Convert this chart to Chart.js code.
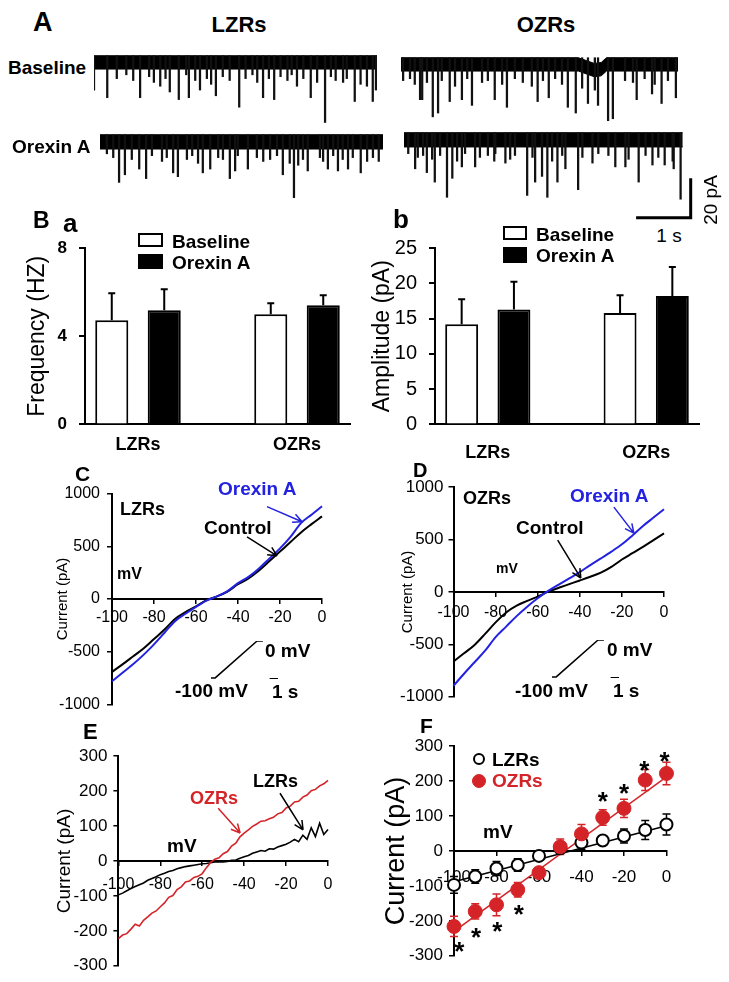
<!DOCTYPE html>
<html>
<head>
<meta charset="utf-8">
<script src="https://cdn.jsdelivr.net/npm/chart.js@4.4.1/dist/chart.umd.min.js"></script>
<style>
  body { margin: 0; width: 729px; height: 982px; background: #fff; position: relative; overflow: hidden;
         font-family: "Liberation Sans", Arial, Helvetica, sans-serif; }
  canvas { position: absolute; }
  .t { position: absolute; white-space: nowrap; line-height: 1; font-weight: bold; color: #000; }
</style>
</head>
<body>
<script>
// ---------- A: sEPSC traces (time in s, depth in pA) ----------
const lzrBaseT = [0.0, 0.25, 0.87, 1.25, 1.43, 1.60, 1.79, 2.0, 2.30, 2.74, 3.19, 3.40, 3.83, 4.09, 4.36, 4.70, 4.92, 5.15, 5.26, 5.32];
const lzrBaseA = [-18, -22, -22, -16, -19, -23, -22, -18, -21, -27, -22, -23, -16, -22, -35, -14, -24, -16, -24, -18];
const lzrBaseSmallT = [0.43, 0.61, 0.74, 1.04, 1.13, 1.35, 1.74, 1.91, 2.13, 2.21, 2.43, 2.56, 2.86, 2.99, 3.08, 3.30, 3.52, 3.65, 3.73, 3.95, 4.21, 4.47, 4.56, 4.77, 5.03];
const lzrBaseSmallA = [-12, -10, -13, -11, -14, -12, -10, -13, -12, -15, -11, -13, -12, -10, -14, -12, -11, -13, -10, -12, -14, -11, -13, -12, -15];

const ozrBaseT = [0.36, 0.40, 0.60, 0.70, 0.92, 1.15, 1.34, 1.77, 2.0, 2.58, 2.79, 3.15, 3.30, 3.53, 3.72, 3.91, 4.0, 4.45, 4.74, 4.92, 5.19];
const ozrBaseA = [-22, -22, -31, -29, -23, -22, -25, -22, -26, -23, -21, -26, -29, -24, -25, -33, -32, -22, -19, -24, -21];
const ozrBaseSmallT = [0.04, 0.17, 0.26, 0.49, 0.77, 1.02, 1.25, 1.53, 1.64, 1.91, 2.15, 2.30, 2.47, 2.68, 2.91, 3.04, 3.42, 3.66, 4.23, 4.38, 4.60, 4.79, 5.04];
const ozrBaseSmallA = [-12, -11, -14, -13, -12, -15, -11, -13, -12, -14, -11, -13, -15, -12, -11, -14, -16, -17, -12, -13, -11, -14, -12];
const ozrBaseBandT = [0, 3.35, 3.50, 3.65, 3.78, 3.88, 5.23];
const ozrBaseBandTop = [0, 0, -1.5, -3, -2.5, 0, 0];

const lzrOrxT = [0.36, 0.47, 0.74, 0.87, 1.38, 1.47, 1.94, 2.08, 2.45, 2.55, 2.79, 3.45, 3.66, 3.92, 4.30, 4.49, 4.68, 4.92, 5.26];
const lzrOrxA = [-25, -21, -18, -23, -20, -22, -20, -18, -23, -19, -18, -21, -33, -19, -18, -19, -18, -20, -14];
const lzrOrxSmallT = [0.13, 0.25, 0.60, 0.98, 1.17, 1.26, 1.64, 1.74, 1.85, 2.23, 2.32, 2.60, 2.96, 3.08, 3.21, 3.34, 3.58, 3.74, 3.83, 4.15, 4.21, 4.40, 4.58, 4.77, 5.04, 5.15];
const lzrOrxSmallA = [-10, -12, -13, -11, -14, -12, -13, -11, -15, -12, -13, -11, -12, -14, -13, -11, -15, -16, -13, -12, -14, -11, -13, -12, -14, -12];

const ozrOrxT = [0.21, 0.43, 0.58, 0.81, 0.91, 1.09, 1.34, 1.70, 1.91, 2.32, 2.47, 2.60, 2.70, 2.89, 3.04, 3.28, 3.55, 3.98, 4.17, 4.42, 4.68, 4.91, 5.08, 5.21];
const ozrOrxA = [-19, -21, -26, -34, -24, -18, -18, -15, -16, -33, -26, -23, -34, -26, -19, -30, -16, -18, -18, -26, -17, -17, -19, -35];
const ozrOrxSmallT = [0.08, 0.26, 0.36, 0.53, 0.68, 1.0, 1.15, 1.43, 1.58, 1.72, 2.0, 2.09, 2.42, 2.79, 2.98, 3.36, 3.66, 3.85, 4.23, 4.55, 4.79, 5.06];
const ozrOrxSmallA = [-11, -13, -12, -14, -12, -15, -11, -13, -12, -11, -14, -12, -13, -15, -12, -13, -11, -12, -14, -12, -13, -15];

// scale bar: 1 s, 20 pA
const scaleBarT = [4.4, 5.4, 5.4];
const scaleBarI = [-44.7, -44.7, -24.7];

// ---------- B: frequency / amplitude ----------
const groups = ['LZRs', 'OZRs'];
const freqBase = [4.73, 5.0];
const freqBaseErr = [1.22, 0.5];
const freqOrx = [5.18, 5.41];
const freqOrxErr = [0.96, 0.45];
const ampBase = [14.2, 15.8];
const ampBaseErr = [3.55, 2.5];
const ampOrx = [16.3, 18.2];
const ampOrxErr = [3.9, 4.1];

// ---------- C / D: ramp I-V (mV, pA) ----------
const rampMv = [-100, -95, -90, -85, -80, -75, -70, -65, -60, -55, -50, -45, -40, -35, -30, -25, -20, -15, -10, -5, 0];
const lzrControl = [-692, -620, -545, -470, -380, -290, -190, -125, -70, -10, 25, 70, 140, 195, 270, 360, 450, 540, 632, 710, 784];
const lzrOrexin = [-781, -700, -620, -530, -430, -320, -210, -140, -75, -15, 25, 75, 150, 210, 290, 385, 480, 590, 720, 800, 880];
const ozrControl = [-663, -585, -505, -400, -290, -195, -130, -85, -44, 3, 40, 75, 110, 146, 185, 240, 310, 370, 430, 495, 560];
const ozrOrexin = [-895, -780, -670, -560, -430, -330, -230, -140, -60, 10, 70, 130, 190, 257, 320, 385, 455, 540, 630, 710, 790];

// voltage protocol inset (s, mV)
const protoT = [0, 0.5, 5.5, 6.2];
const protoMv = [-100, -100, 0, 0];
const protoBarT = [7, 8];
const protoBarMv = [-103, -103];

// ---------- E: orexin-induced current ----------
const diffMv = [-100, -98, -96, -94, -92, -90, -88, -86, -84, -82, -80, -78, -76, -74, -72, -70, -68, -66, -64, -62,
  -60, -58, -56, -54, -52, -50, -48, -46, -44, -42, -40, -38, -36, -34, -32, -30, -28, -26, -24, -22,
  -20, -18, -16, -14, -12, -10, -8, -6, -4, -2, 0];
const diffOzr = [-222, -212, -208, -195, -181, -186, -170, -160, -149, -143, -131, -120, -104, -99, -82, -74, -60, -57, -47, -44,
  -36, -19, -4, 5, 9, 21, 27, 43, 51, 69, 80, 89, 99, 106, 114, 115, 121, 125, 135, 139,
  152, 157, 169, 171, 183, 189, 201, 205, 215, 221, 231];
const diffLzr = [-97, -92, -85, -79, -73, -68, -63, -55, -50, -45, -39, -35, -30, -27, -22, -19, -16, -14, -12, -10,
  -8, -7, -5, -3, -2, -3, -1, 2, 3, 8, 12, 16, 22, 26, 30, 28, 35, 34, 40, 44,
  48, 54, 62, 55, 74, 62, 95, 70, 108, 76, 90];

// ---------- F: mean I-V ----------
const stepMv = [-100, -90, -80, -70, -60, -50, -40, -30, -20, -10, 0];
const meanLzr = [-97, -73, -50, -40, -14, 8, 24, 30, 43, 60, 76];
const meanLzrErr = [24, 19, 20, 18, 12, 10, 19, 13, 20, 27, 30];
const meanOzr = [-216, -173, -154, -111, -62, 12, 49, 96, 122, 203, 222];
const meanOzrErr = [29, 22, 31, 21, 10, 22, 27, 22, 26, 30, 32];
const fitMv = [-100, 0];
const fitLzr = [-88, 72];
const fitOzr = [-230, 212];
const starMv = [-97.5, -89.6, -79.6, -69.5, -30, -20, -10.4, -0.9];
const starPa = [-269, -230, -211, -164, 160, 184, 250, 274];

const BLUE = '#2222e0';
const RED = '#d42428';
const FONT = '"Liberation Sans", Arial, Helvetica, sans-serif';

Chart.defaults.font.family = FONT;
Chart.defaults.color = '#000';
Chart.defaults.animation = false;
Chart.defaults.responsive = false;
Chart.defaults.events = [];
Chart.defaults.plugins.legend.display = false;
Chart.defaults.plugins.tooltip.enabled = false;

const pts = (xs, ys) => xs.map((x, i) => ({ x: x, y: ys[i] }));
const plain = v => String(v);   // no thousands separator

// arrows given in data units
const arrowPlugin = {
  id: 'arrows',
  afterDatasetsDraw(chart, args, opts) {
    const items = (opts && opts.items) || [];
    const xs = chart.scales.x, ys = chart.scales.y, ctx = chart.ctx;
    ctx.save();
    ctx.lineWidth = 1.5;
    items.forEach(a => {
      const x0 = xs.getPixelForValue(a.from[0]), y0 = ys.getPixelForValue(a.from[1]);
      const x1 = xs.getPixelForValue(a.to[0]), y1 = ys.getPixelForValue(a.to[1]);
      const ang = Math.atan2(y1 - y0, x1 - x0);
      ctx.strokeStyle = a.color;
      ctx.beginPath();
      ctx.moveTo(x0, y0);
      ctx.lineTo(x1, y1);
      [-0.45, 0.45].forEach(d => {
        ctx.moveTo(x1, y1);
        ctx.lineTo(x1 - 10 * Math.cos(ang + d), y1 - 10 * Math.sin(ang + d));
      });
      ctx.stroke();
    });
    ctx.restore();
  }
};

// error bars from a dataset's "errors" array
const errorBarPlugin = {
  id: 'errorBars',
  beforeDatasetsDraw(chart) {
    const ctx = chart.ctx, ys = chart.scales.y;
    chart.data.datasets.forEach((ds, di) => {
      if (!ds.errors) return;
      const meta = chart.getDatasetMeta(di);
      const cap = ds.errorCap || 4;
      ctx.save();
      ctx.strokeStyle = ds.errorColor || '#000';
      ctx.lineWidth = ds.errorWidth || 1.5;
      meta.data.forEach((el, i) => {
        const v = ds.data[i].y, e = ds.errors[i];
        const top = ys.getPixelForValue(v + e);
        const bot = ds.errorUpOnly ? el.y : ys.getPixelForValue(v - e);
        ctx.beginPath();
        ctx.moveTo(el.x, bot); ctx.lineTo(el.x, top);
        ctx.moveTo(el.x - cap, top); ctx.lineTo(el.x + cap, top);
        if (!ds.errorUpOnly) { ctx.moveTo(el.x - cap, bot); ctx.lineTo(el.x + cap, bot); }
        ctx.stroke();
      });
      ctx.restore();
    });
  }
};

// significance stars at the points of a dataset flagged "stars"
const starPlugin = {
  id: 'stars',
  afterDatasetsDraw(chart) {
    const ctx = chart.ctx;
    chart.data.datasets.forEach((ds, di) => {
      if (!ds.stars) return;
      ctx.save();
      ctx.font = 'bold 26px ' + FONT;
      ctx.textAlign = 'center';
      ctx.textBaseline = 'alphabetic';
      ctx.fillStyle = '#000';
      chart.getDatasetMeta(di).data.forEach(p => ctx.fillText('*', p.x, p.y + 15));
      ctx.restore();
    });
  }
};

// build the chart twice so that its plot area lands on the box (page px)
function placeChart(box, buildCfg) {
  const canvas = document.createElement('canvas');
  let w = Math.round(box.r - box.l) + 160, h = Math.round(box.b - box.t) + 80;
  canvas.width = w; canvas.height = h;
  document.body.appendChild(canvas);
  let chart = new Chart(canvas, buildCfg());
  let ca = chart.chartArea;
  w = Math.round(w + (box.r - box.l) - (ca.right - ca.left));
  h = Math.round(h + (box.b - box.t) - (ca.bottom - ca.top));
  chart.destroy();
  canvas.width = w; canvas.height = h;
  chart = new Chart(canvas, buildCfg());
  ca = chart.chartArea;
  canvas.style.left = (box.l - ca.left) + 'px';
  canvas.style.top = (box.t - ca.top) + 'px';
  return chart;
}

function label(str, x, y, o) {
  o = o || {};
  const d = document.createElement('div');
  d.className = 't';
  d.textContent = str;
  d.style.left = x + 'px';
  d.style.top = y + 'px';
  d.style.fontSize = (o.size || 19) + 'px';
  if (o.normal) d.style.fontWeight = 'normal';
  if (o.color) d.style.color = o.color;
  d.style.transform = (o.center ? 'translate(-50%,-50%)' : 'translate(0,-50%)') + (o.rotate ? ' rotate(-90deg)' : '');
  document.body.appendChild(d);
  return d;
}

// ---------- A ----------
function traceConfig(tr) {
  return () => ({
    type: 'bar',
    data: {
      datasets: [
        { type: 'bar', data: tr.t.map((t, i) => ({ x: t, y: [tr.a[i], 0] })), backgroundColor: '#111',
          barThickness: 1.6, grouped: false, clip: false, order: 0 },
        { type: 'line', data: pts(tr.bandT, tr.bandTop), borderColor: '#000', borderWidth: 1,
          pointRadius: 0, fill: false, clip: false, order: 1 },
        { type: 'line', data: tr.bandT.map((t, i) => ({ x: t, y: tr.bandTop[i] - tr.depth })), borderColor: '#000',
          borderWidth: 1, backgroundColor: '#000', pointRadius: 0, fill: '-1', clip: false, order: 1 }
      ].concat(tr.extra || [])
    },
    options: {
      scales: {
        x: { type: 'linear', min: 0, max: tr.xMax, offset: false, display: false },
        y: { min: tr.yMin, max: 3, display: false }
      }
    }
  });
}

placeChart({ l: 94, r: 377, t: 50.3, b: 132 }, traceConfig({
  t: lzrBaseT.concat(lzrBaseSmallT), a: lzrBaseA.concat(lzrBaseSmallA),
  bandT: [0, 5.34], bandTop: [0, 0], depth: 7, xMax: 5.34, yMin: -40 }));
placeChart({ l: 401, r: 678.2, t: 52.3, b: 134 }, traceConfig({
  t: ozrBaseT.concat(ozrBaseSmallT), a: ozrBaseA.concat(ozrBaseSmallA),
  bandT: ozrBaseBandT, bandTop: ozrBaseBandTop, depth: 7, xMax: 5.23, yMin: -40 }));
placeChart({ l: 100, r: 383, t: 129.3, b: 211 }, traceConfig({
  t: lzrOrxT.concat(lzrOrxSmallT), a: lzrOrxA.concat(lzrOrxSmallA),
  bandT: [0, 5.34], bandTop: [0, 0], depth: 7.5, xMax: 5.34, yMin: -40 }));
placeChart({ l: 404, r: 695.5, t: 127.3, b: 222.3 }, traceConfig({
  t: ozrOrxT.concat(ozrOrxSmallT), a: ozrOrxA.concat(ozrOrxSmallA),
  bandT: [0, 5.25], bandTop: [0, 0], depth: 7.5, xMax: 5.5, yMin: -47,
  extra: [{ type: 'line', data: pts(scaleBarT, scaleBarI), borderColor: '#000', borderWidth: 3,
            pointRadius: 0, fill: false, clip: false, borderCapStyle: 'square', order: 0 }] }));

label('A', 33, 22, { size: 27 });
label('LZRs', 239, 24.5, { size: 22, center: true });
label('OZRs', 546, 24.5, { size: 22, center: true });
label('Baseline', 8, 66.5, { size: 19 });
label('Orexin A', 12, 146, { size: 19 });
label('1 s', 669, 235, { size: 19, normal: true, center: true });
label('20 pA', 710, 200, { size: 19, normal: true, center: true, rotate: true });

// ---------- B ----------
function barConfig(p) {
  return () => ({
    type: 'bar',
    data: {
      datasets: [
        { label: 'Baseline', data: pts([1, 2], p.base), errors: p.baseErr, backgroundColor: '#fff', borderColor: '#000',
          borderWidth: 2, categoryPercentage: 0.66, barPercentage: 0.63, errorUpOnly: true, errorCap: 3.5, errorWidth: 2 },
        { label: 'Orexin A', data: pts([1, 2], p.orx), errors: p.orxErr, backgroundColor: '#000', borderColor: '#000',
          borderWidth: 2, categoryPercentage: 0.66, barPercentage: 0.63, errorUpOnly: true, errorCap: 3.5, errorWidth: 2 }
      ]
    },
    options: {
      layout: { padding: { top: 10, right: 10 } },
      scales: {
        x: {
          type: 'linear', min: 2 / 3, max: 7 / 3, offset: false,
          afterBuildTicks: s => { s.ticks = [{ value: 1 }, { value: 2 }]; },
          ticks: { callback: v => groups[v - 1], font: { size: 18, weight: 'bold' }, padding: p.xPad, maxRotation: 0 },
          grid: { drawOnChartArea: false, drawTicks: false },
          border: { color: '#000', width: 2 }
        },
        y: {
          min: 0, max: p.yMax,
          ticks: { stepSize: p.step, font: p.tickFont, padding: 12 },
          grid: { drawOnChartArea: false, drawTicks: true, tickLength: 6, color: '#000', lineWidth: 2 },
          border: { color: '#000', width: 2 },
          title: { display: true, text: p.title, font: { size: 23 } },
          afterFit: s => { s.width = p.axisW; }
        }
      }
    },
    plugins: [errorBarPlugin]
  });
}

function boxLegend(chart, spots) {
  chart.data.datasets.forEach((ds, i) => {
    const s = spots[i];
    const sw = document.createElement('div');
    sw.style.cssText = 'position:absolute;box-sizing:border-box;left:' + s.l + 'px;top:' + s.t + 'px;width:' + s.w +
      'px;height:' + s.h + 'px;border:2px solid ' + ds.borderColor + ';background:' + ds.backgroundColor;
    document.body.appendChild(sw);
    label(ds.label, s.tx, s.ty, { size: 19 });
  });
}

const freqChart = placeChart({ l: 85, r: 350, t: 248, b: 424 }, barConfig({
  base: freqBase, baseErr: freqBaseErr, orx: freqOrx, orxErr: freqOrxErr,
  yMax: 8, step: 4, tickFont: { size: 17, weight: 'bold' }, title: 'Frequency (HZ)', axisW: 65, xPad: 10 }));
boxLegend(freqChart, [
  { l: 138, t: 233, w: 25, h: 14, tx: 172, ty: 241 },
  { l: 138, t: 254, w: 25, h: 15, tx: 172, ty: 262 }
]);

const ampChart = placeChart({ l: 435, r: 699, t: 248, b: 424 }, barConfig({
  base: ampBase, baseErr: ampBaseErr, orx: ampOrx, orxErr: ampOrxErr,
  yMax: 25, step: 5, tickFont: { size: 20 }, title: 'Amplitude (pA)', axisW: 70, xPad: 18 }));
boxLegend(ampChart, [
  { l: 503, t: 226, w: 24, h: 14, tx: 536, ty: 234 },
  { l: 503, t: 247, w: 24, h: 16, tx: 536, ty: 255 }
]);

label('B', 33, 220, { size: 23 });
label('a', 63, 222.7, { size: 26 });
label('b', 393, 218.7, { size: 26 });

// ---------- I-V panels ----------
function ivConfig(p) {
  return () => ({
    type: 'line',
    data: { datasets: p.datasets },
    options: {
      layout: { padding: { top: 14, right: 16, bottom: 10, left: 0 } },
      scales: {
        x: {
          type: 'linear', min: -100, max: 0, position: { y: 0 },
          ticks: { stepSize: 20, font: { size: p.xFont }, padding: p.xPad, maxRotation: 0, callback: plain },
          grid: { drawOnChartArea: false, drawTicks: true, tickLength: 4, color: '#000', lineWidth: 1.5 },
          border: { color: '#000', width: 2 }
        },
        y: {
          min: p.yMin, max: p.yMax,
          ticks: { stepSize: p.yStep, font: { size: p.yFont }, padding: p.yPad, callback: plain },
          grid: { drawOnChartArea: false, drawTicks: true, tickLength: 5, color: '#000', lineWidth: 1.5 },
          border: { color: '#000', width: 2 },
          title: { display: true, text: 'Current (pA)', font: { size: p.titleFont } },
          afterFit: s => { s.width = p.axisW; }
        }
      },
      plugins: { arrows: { items: p.arrows || [] } }
    },
    plugins: [arrowPlugin, errorBarPlugin, starPlugin]
  });
}

function curve(xs, ys, color, width, order, smooth) {
  return { data: pts(xs, ys), borderColor: color, borderWidth: width, pointRadius: 0, fill: false, clip: false,
           order: order, cubicInterpolationMode: smooth ? 'monotone' : 'default', tension: 0 };
}

function protocolConfig() {
  return () => ({
    type: 'line',
    data: { datasets: [curve(protoT, protoMv, '#000', 1.5, 0), curve(protoBarT, protoBarMv, '#000', 2, 0)] },
    options: { scales: { x: { type: 'linear', min: 0, max: 8, display: false }, y: { min: -103, max: 0, display: false } } }
  });
}

// C
placeChart({ l: 112, r: 322, t: 494, b: 705 }, ivConfig({
  datasets: [curve(rampMv, lzrOrexin, BLUE, 2, 0, true), curve(rampMv, lzrControl, '#000', 2, 1, true)],
  yMin: -1000, yMax: 1000, yStep: 500, yFont: 16, yPad: 7, xFont: 16, xPad: 5.4, titleFont: 15, axisW: 62,
  arrows: [{ from: [-26.2, 876], to: [-9.5, 733], color: BLUE }, { from: [-35.7, 590], to: [-21.4, 410], color: '#000' }]
}));
placeChart({ l: 211, r: 278, t: 641, b: 679 }, protocolConfig());
label('C', 75, 473, { size: 21 });
label('LZRs', 120, 509, { size: 18 });
label('Orexin A', 218, 488, { size: 19, color: BLUE });
label('Control', 204, 527, { size: 19 });
label('mV', 117, 574, { size: 16 });
label('0 mV', 265, 650, { size: 19 });
label('-100 mV', 175, 690, { size: 19 });
label('1 s', 272, 691, { size: 19 });

// D
placeChart({ l: 453, r: 663, t: 487, b: 697 }, ivConfig({
  datasets: [curve(rampMv, ozrOrexin, BLUE, 2, 0, true), curve(rampMv, ozrControl, '#000', 2, 1, true)],
  yMin: -1000, yMax: 1000, yStep: 500, yFont: 17, yPad: 5, xFont: 16, xPad: 7.4, titleFont: 15, axisW: 58.5,
  arrows: [{ from: [-23.8, 810], to: [-14.3, 562], color: BLUE }, { from: [-50.5, 495], to: [-39.5, 133], color: '#000' }]
}));
placeChart({ l: 552, r: 619, t: 640, b: 678 }, protocolConfig());
label('D', 413, 470, { size: 20 });
label('OZRs', 463, 497.5, { size: 18 });
label('Orexin A', 570, 494.5, { size: 19, color: BLUE });
label('Control', 516, 527, { size: 19 });
label('mV', 496, 568, { size: 14 });
label('0 mV', 607, 648.5, { size: 19 });
label('-100 mV', 515, 690, { size: 19 });
label('1 s', 613, 690, { size: 19 });

// E
placeChart({ l: 118, r: 328, t: 756, b: 966 }, ivConfig({
  datasets: [curve(diffMv, diffOzr, RED, 1.6, 0), curve(diffMv, diffLzr, '#000', 1.6, 1)],
  yMin: -300, yMax: 300, yStep: 100, yFont: 17, yPad: 6, xFont: 16, xPad: 10.4, titleFont: 19, axisW: 69.4,
  arrows: [{ from: [-52.4, 151], to: [-41.9, 80], color: RED }, { from: [-22.9, 194], to: [-11.9, 89], color: '#000' }]
}));
label('E', 83, 732, { size: 22 });
label('OZRs', 190, 798, { size: 18, color: RED });
label('LZRs', 253, 781, { size: 18 });
label('mV', 167, 845, { size: 19 });

// F
const meanChart = placeChart({ l: 454, r: 666, t: 746, b: 956 }, ivConfig({
  datasets: [
    { label: 'LZRs', data: pts(stepMv, meanLzr), errors: meanLzrErr, errorColor: '#000', errorCap: 4, errorWidth: 1.5,
      showLine: false, pointRadius: 6, pointBorderWidth: 2, pointBackgroundColor: '#fff', pointBorderColor: '#000',
      clip: false, order: 1 },
    { label: 'OZRs', data: pts(stepMv, meanOzr), errors: meanOzrErr, errorColor: RED, errorCap: 4, errorWidth: 1.5,
      showLine: false, pointRadius: 7, pointBorderWidth: 1, pointBackgroundColor: RED, pointBorderColor: RED,
      clip: false, order: 0 },
    curve(fitMv, fitLzr, '#000', 1.5, 3),
    curve(fitMv, fitOzr, RED, 1.5, 2),
    { data: pts(starMv, starPa), stars: true, showLine: false, pointRadius: 0, clip: false, order: 0 }
  ],
  yMin: -300, yMax: 300, yStep: 100, yFont: 17, yPad: 6, xFont: 17, xPad: 11.8, titleFont: 27, axisW: 78
}));
label('F', 420, 725, { size: 21 });
label('mV', 483, 831, { size: 19 });

// F legend from the marker datasets
const fLegendSpots = [{ cx: 479, cy: 759, tx: 492, ty: 759 }, { cx: 479, cy: 781, tx: 492, ty: 780 }];
meanChart.data.datasets.slice(0, 2).forEach((ds, i) => {
  const s = fLegendSpots[i];
  const r = ds.pointRadius;
  const m = document.createElement('div');
  m.style.cssText = 'position:absolute;box-sizing:border-box;border-radius:50%;left:' + (s.cx - r) + 'px;top:' + (s.cy - r) +
    'px;width:' + (2 * r) + 'px;height:' + (2 * r) + 'px;border:' + ds.pointBorderWidth + 'px solid ' + ds.pointBorderColor +
    ';background:' + ds.pointBackgroundColor;
  document.body.appendChild(m);
  label(ds.label, s.tx, s.ty, { size: 19, color: ds.pointBorderColor });
});
</script>
</body>
</html>
